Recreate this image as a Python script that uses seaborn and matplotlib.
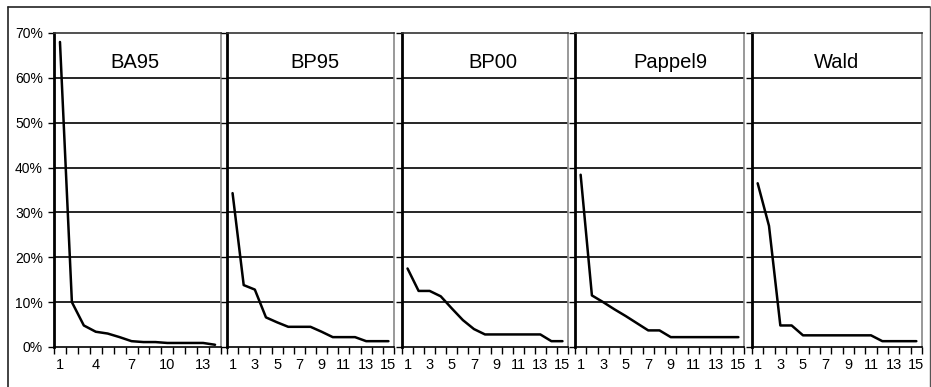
import matplotlib
matplotlib.use("Agg")
import matplotlib.pyplot as plt
import seaborn as sns
import pandas as pd
from matplotlib.ticker import FixedLocator, FuncFormatter
from matplotlib.lines import Line2D

sns.set_style("white")
plt.rcParams['font.family'] = ['Liberation Sans', 'DejaVu Sans']
plt.rcParams['text.color'] = 'black'
plt.rcParams['xtick.color'] = 'black'
plt.rcParams['ytick.color'] = 'black'

panel_names = ["BA95", "BP95", "BP00", "Pappel9", "Wald"]
ba95 = [68, 10, 4.8, 3.4, 3.0, 2.2, 1.3, 1.1, 1.1, 0.9, 0.9, 0.9, 0.9, 0.5]
bp95 = [34.3, 13.8, 12.8, 6.6, 5.5, 4.5, 4.5, 4.5, 3.4, 2.2, 2.2, 2.2, 1.3, 1.3, 1.3]
bp00 = [17.5, 12.5, 12.5, 11.3, 8.6, 6.0, 4.0, 2.8, 2.8, 2.8, 2.8, 2.8, 2.8, 1.3, 1.3]
pappel9 = [38.4, 11.5, 10.0, 8.4, 6.9, 5.3, 3.7, 3.7, 2.2, 2.2, 2.2, 2.2, 2.2, 2.2, 2.2]
wald = [36.5, 27.0, 4.8, 4.8, 2.6, 2.6, 2.6, 2.6, 2.6, 2.6, 2.6, 1.3, 1.3, 1.3, 1.3]
series = [ba95, bp95, bp00, pappel9, wald]
label_steps = [3, 2, 2, 2, 2]
y_ticks = [0, 10, 20, 30, 40, 50, 60, 70]
title_x = [0.485, 0.527, 0.548, 0.562, 0.50]

W, H = 931, 387
fig = plt.figure(figsize=(W / 100, H / 100), dpi=100)
panels_px = [(54, 221), (227, 394), (402, 568), (575, 744), (752, 922)]
top_px, bot_px = 33, 347

for i, (name, vals) in enumerate(zip(panel_names, series)):
    x0, x1 = panels_px[i]
    ax = fig.add_axes([x0 / W, 1 - bot_px / H, (x1 - x0) / W, (bot_px - top_px) / H])
    n = len(vals)
    df = pd.DataFrame({"cat": list(range(1, n + 1)), "val": vals})
    for g in y_ticks[1:-1]:
        ax.axhline(g, color="black", lw=1.2, zorder=1)
    sns.lineplot(data=df, x="cat", y="val", ax=ax, color="black", lw=1.8, zorder=3)
    ax.set_xlim(0.5, n + 0.5)
    ax.set_ylim(0, 70)
    ax.set_xlabel("")
    ax.set_ylabel("")
    labels_pos = list(range(1, n + 1, label_steps[i]))
    ax.xaxis.set_major_locator(FixedLocator(labels_pos))
    ax.set_xticklabels([str(p) for p in labels_pos], fontsize=10.5, color="black")
    ax.xaxis.set_minor_locator(FixedLocator([k + 0.5 for k in range(0, n + 1)]))
    ax.tick_params(axis="x", which="major", length=0, pad=8)
    ax.tick_params(axis="x", which="minor", length=5, width=1, direction="out",
                   color="black", bottom=True)
    ax.yaxis.set_major_locator(FixedLocator(y_ticks))
    ax.tick_params(axis="y", which="major", length=4, width=1, direction="out",
                   color="black", left=True, pad=4, labelcolor="black")
    if i == 0:
        ax.yaxis.set_major_formatter(FuncFormatter(lambda v, p: f"{int(v)}%"))
        ax.tick_params(axis="y", labelsize=10)
    else:
        ax.set_yticklabels([])
    for s in ["left", "bottom", "top", "right"]:
        ax.spines[s].set_visible(True)
    ax.spines["left"].set_color("black")
    ax.spines["left"].set_linewidth(2.0)
    ax.spines["bottom"].set_color("black")
    ax.spines["bottom"].set_linewidth(1.2)
    ax.spines["top"].set_color("#333333")
    ax.spines["top"].set_linewidth(1.2)
    ax.spines["right"].set_color("#888888")
    ax.spines["right"].set_linewidth(1.2)
    ax.text(title_x[i], 0.905, name, transform=ax.transAxes, ha="center",
            va="center", fontsize=14.5, color="black")
    ax.set_facecolor("white")

fig.add_artist(Line2D([8 / W, 8 / W], [0, 1 - 7 / H], color="#222222", lw=1.2))
fig.add_artist(Line2D([8 / W, 930 / W], [1 - 7 / H, 1 - 7 / H], color="#222222", lw=1.2))
fig.add_artist(Line2D([930 / W, 930 / W], [0, 1 - 7 / H], color="#555555", lw=1.0))

fig.savefig("out.png", dpi=100, facecolor="white")
